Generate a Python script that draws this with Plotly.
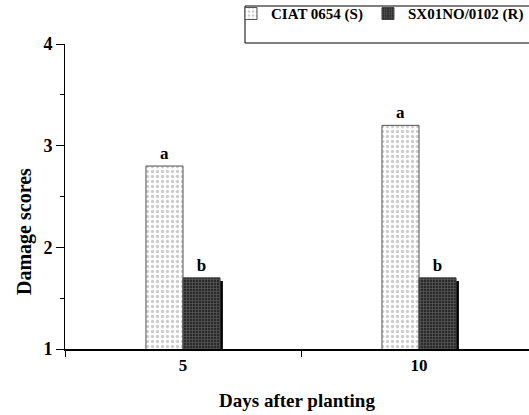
import plotly.graph_objects as go

days = ["5", "10"]
ciat = [2.8, 3.2]
sx = [1.7, 1.7]
ciat_letters = ["a", "a"]
sx_letters = ["b", "b"]
series_names = ["CIAT 0654 (S)", "SX01NO/0102 (R)"]
x_title = "Days after planting"
y_title = "Damage scores"

FONT = "Liberation Serif"
W = 0.157
AXIS_MIN = 1
SH = 0.03  # shadow drop (in axis units)

fig = go.Figure()
fig.add_trace(go.Bar(
    x=days, y=ciat, name=series_names[0], width=W, offset=-W,
    text=ciat_letters, textposition="outside", cliponaxis=False,
    textfont=dict(family=FONT, size=17, color="black", weight="bold"),
    marker=dict(color="white", line=dict(color="#555", width=1),
                pattern=dict(shape=".", fgcolor="#9a9a9a", bgcolor="white", size=5, solidity=0.35)),
))
# drop shadow behind the dark bars
fig.add_trace(go.Bar(
    x=days, y=[v - AXIS_MIN for v in sx], base=[AXIS_MIN - SH] * len(sx), width=W, offset=0.012,
    marker=dict(color="black", line=dict(width=0)), showlegend=False, hoverinfo="skip",
))
fig.add_trace(go.Bar(
    x=days, y=sx, name=series_names[1], width=W, offset=0,
    text=sx_letters, textposition="outside", cliponaxis=False,
    textfont=dict(family=FONT, size=17, color="black", weight="bold"),
    marker=dict(color="#333", line=dict(color="#444", width=1),
                pattern=dict(shape="+", fgcolor="#8a8a8a", bgcolor="#2a2a2a", size=3, solidity=0.4)),
))

PLOT_H = 415 - 44 - 66
fig.update_layout(
    width=529, height=415,
    margin=dict(l=65, r=0, t=44, b=66, autoexpand=False),
    paper_bgcolor="white", plot_bgcolor="white",
    barmode="overlay",
    font=dict(family=FONT, color="black"),
    showlegend=True,
    legend=dict(orientation="h", x=1.0, xanchor="right", y=1.045, yanchor="bottom",
                yref="paper", font=dict(family=FONT, size=15, color="black", weight="bold"),
                bgcolor="rgba(0,0,0,0)", itemwidth=30, tracegroupgap=0),
    xaxis=dict(type="category", range=[-0.5, 1.466], tickson="boundaries",
               ticks="outside", ticklen=6, tickcolor="black",
               showline=True, linecolor="black", linewidth=1.5,
               showgrid=False, zeroline=False,
               tickfont=dict(family=FONT, size=17, color="black", weight="bold"),
               title=dict(text=x_title, font=dict(family=FONT, size=19, weight="bold"), standoff=20)),
    yaxis=dict(range=[1, 4], tickvals=[1, 2, 3, 4],
               ticks="outside", ticklen=8, tickcolor="black",
               minor=dict(tickvals=[1.5, 2.5, 3.5], ticks="outside", ticklen=4, tickcolor="black"),
               showline=True, linecolor="black", linewidth=1,
               showgrid=False, zeroline=False,
               tickfont=dict(family=FONT, size=18, color="black", weight="bold")),
    annotations=[dict(text=y_title, textangle=-90, xref="paper", yref="paper",
                      x=(24 - 65) / 464, y=(415 - 66 - 232) / PLOT_H, xanchor="center", yanchor="middle",
                      showarrow=False, font=dict(family=FONT, size=20, weight="bold", color="black"))],
    shapes=[dict(type="rect", xref="paper", yref="paper", x0=(245 - 65) / 464, x1=1.05,
                 y0=(415 - 66 - 43) / PLOT_H, y1=(415 - 66 - 6) / PLOT_H,
                 line=dict(color="black", width=1), fillcolor="rgba(0,0,0,0)")],
)

fig.write_html("out.html")
